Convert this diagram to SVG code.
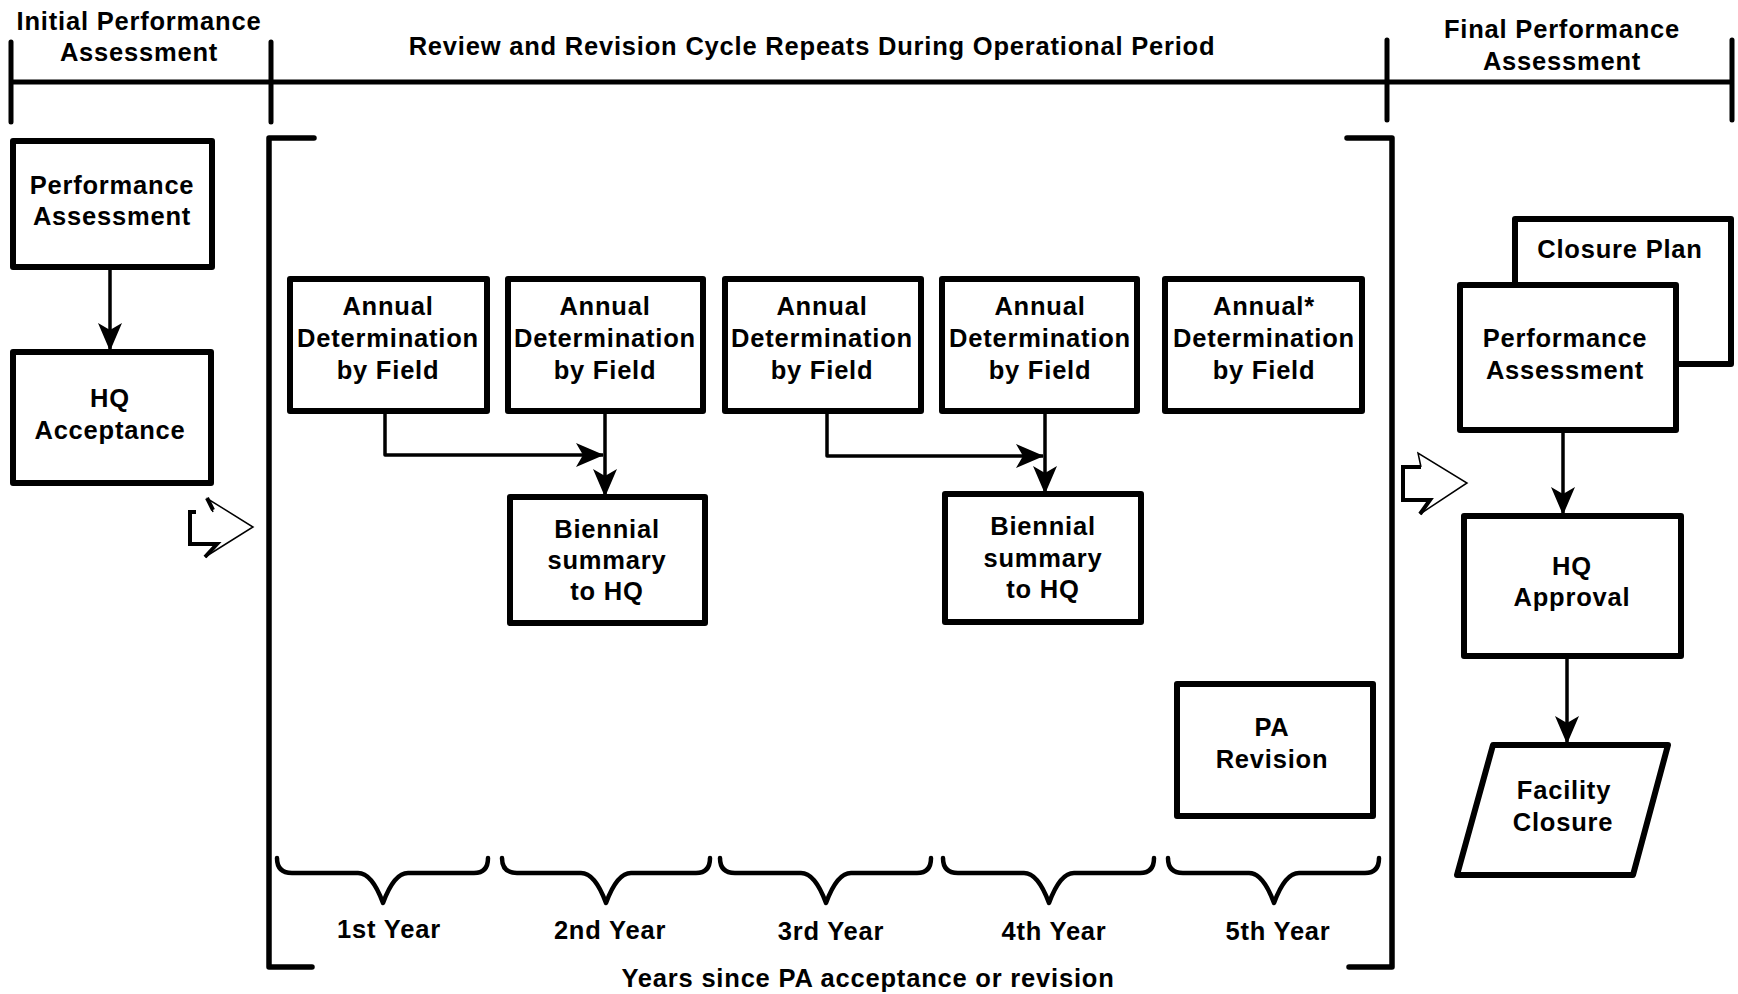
<svg xmlns="http://www.w3.org/2000/svg" width="1738" height="994" viewBox="0 0 1738 994">
<style>
text{font-family:"Liberation Sans",Arial,sans-serif;font-weight:bold;font-size:25.5px;letter-spacing:0.8px;text-anchor:middle;fill:#000}
.box{fill:#fff;stroke:#000;stroke-width:6;stroke-linejoin:round}
.hdr{fill:none;stroke:#000;stroke-width:5;stroke-linecap:round}
.br{fill:none;stroke:#000;stroke-width:5.5;stroke-linecap:round;stroke-linejoin:round}
.con{fill:none;stroke:#000;stroke-width:3.5;stroke-linejoin:round}
.brace{fill:none;stroke:#000;stroke-width:4.5;stroke-linecap:round;stroke-linejoin:round}
.thin{fill:none;stroke:#000;stroke-width:1.5}
.thick{fill:none;stroke:#000;stroke-width:4;stroke-linejoin:miter}
</style>
<defs>
<marker id="ah" markerWidth="28" markerHeight="24" refX="27" refY="12" orient="auto" markerUnits="userSpaceOnUse">
<path d="M0,0 L28,12 L0,24 L7,12 z" fill="#000"/>
</marker>
</defs>
<rect width="1738" height="994" fill="#fff"/>

<g id="header">
<path class="hdr" d="M11,82 H1732 M11,42 V122 M271,42 V122 M1387,40 V120 M1732,40 V120"/>
<text x="139" y="30">Initial Performance</text>
<text x="139" y="61">Assessment</text>
<text x="812" y="55">Review and Revision Cycle Repeats During Operational Period</text>
<text x="1562" y="38">Final Performance</text>
<text x="1562" y="70">Assessment</text>
</g>

<g id="bracket">
<path class="br" d="M314,138 H269 V967 H312"/>
<path class="br" d="M1347,138 H1392 V967 H1349"/>
</g>

<g id="pa-initial">
<rect class="box" x="13" y="141" width="199" height="126"/>
<text x="112" y="194">Performance</text>
<text x="112" y="225">Assessment</text>
</g>
<g id="hq-acceptance">
<rect class="box" x="13" y="352" width="198" height="131"/>
<text x="110" y="407">HQ</text>
<text x="110" y="439">Acceptance</text>
</g>

<g id="arrow-left">
<path class="thin" d="M213,512 L208,499 L253,527 L205,557"/>
<path class="thick" d="M196,512 H190 V544 H217 L205,557"/>
<path class="thick" d="M207,498 L213,510"/>
</g>

<g id="annual1">
<rect class="box" x="290" y="279" width="197" height="132"/>
<text x="388" y="315">Annual</text>
<text x="388" y="347">Determination</text>
<text x="388" y="379">by Field</text>
</g>
<g id="annual2">
<rect class="box" x="508" y="279" width="195" height="132"/>
<text x="605" y="315">Annual</text>
<text x="605" y="347">Determination</text>
<text x="605" y="379">by Field</text>
</g>
<g id="annual3">
<rect class="box" x="725" y="279" width="196" height="132"/>
<text x="822" y="315">Annual</text>
<text x="822" y="347">Determination</text>
<text x="822" y="379">by Field</text>
</g>
<g id="annual4">
<rect class="box" x="942" y="279" width="195" height="132"/>
<text x="1040" y="315">Annual</text>
<text x="1040" y="347">Determination</text>
<text x="1040" y="379">by Field</text>
</g>
<g id="annual5">
<rect class="box" x="1165" y="279" width="197" height="132"/>
<text x="1264" y="315">Annual*</text>
<text x="1264" y="347">Determination</text>
<text x="1264" y="379">by Field</text>
</g>

<g id="biennial1">
<rect class="box" x="510" y="497" width="195" height="126"/>
<text x="607" y="538">Biennial</text>
<text x="607" y="569">summary</text>
<text x="607" y="600">to HQ</text>
</g>
<g id="biennial2">
<rect class="box" x="945" y="494" width="196" height="128"/>
<text x="1043" y="535">Biennial</text>
<text x="1043" y="567">summary</text>
<text x="1043" y="598">to HQ</text>
</g>

<g id="pa-revision">
<rect class="box" x="1177" y="684" width="196" height="132"/>
<text x="1272" y="736">PA</text>
<text x="1272" y="768">Revision</text>
</g>

<g id="closure-plan">
<rect class="box" x="1515" y="219" width="216" height="145"/>
<text x="1620" y="258">Closure Plan</text>
</g>
<g id="pa-final">
<rect class="box" x="1460" y="285" width="216" height="145"/>
<text x="1565" y="347">Performance</text>
<text x="1565" y="379">Assessment</text>
</g>
<g id="hq-approval">
<rect class="box" x="1464" y="516" width="217" height="140"/>
<text x="1572" y="575">HQ</text>
<text x="1572" y="606">Approval</text>
</g>
<g id="facility-closure">
<path class="box" d="M1493,745 H1668 L1633,875 H1457 Z"/>
<text x="1564" y="799">Facility</text>
<text x="1563" y="831">Closure</text>
</g>

<g id="arrow-right">
<path class="thin" d="M1421,467 L1418,453 L1467,483 L1420,514"/>
<path class="thick" d="M1421,467 H1403 V500 H1430 L1420,514"/>
</g>

<g id="connectors">
<path class="con" d="M110,267 V350" marker-end="url(#ah)"/>
<path class="con" d="M385,411 V455 H603" marker-end="url(#ah)"/>
<path class="con" d="M605,411 V496" marker-end="url(#ah)"/>
<path class="con" d="M827,411 V456 H1043" marker-end="url(#ah)"/>
<path class="con" d="M1045,411 V493" marker-end="url(#ah)"/>
<path class="con" d="M1563,430 V514" marker-end="url(#ah)"/>
<path class="con" d="M1567,656 V743" marker-end="url(#ah)"/>
</g>

<g id="braces">
<path class="brace" d="M277,858 Q277,873 292,873 L358,873 Q372,873 383,903 Q394,873 408,873 L474,873 Q488,873 488,858"/>
<path class="brace" d="M502,858 Q502,873 517,873 L581,873 Q595,873 606,903 Q617,873 631,873 L696,873 Q710,873 710,858"/>
<path class="brace" d="M720,858 Q720,873 735,873 L801,873 Q815,873 826,903 Q837,873 851,873 L917,873 Q931,873 931,858"/>
<path class="brace" d="M943,858 Q943,873 958,873 L1024,873 Q1038,873 1049,903 Q1060,873 1074,873 L1140,873 Q1154,873 1154,858"/>
<path class="brace" d="M1168,858 Q1168,873 1183,873 L1249,873 Q1263,873 1274,903 Q1285,873 1299,873 L1365,873 Q1379,873 1379,858"/>
<text x="389" y="938">1st Year</text>
<text x="610" y="939">2nd Year</text>
<text x="831" y="940">3rd Year</text>
<text x="1054" y="940">4th Year</text>
<text x="1278" y="940">5th Year</text>
<text x="868" y="987">Years since PA acceptance or revision</text>
</g>
</svg>
